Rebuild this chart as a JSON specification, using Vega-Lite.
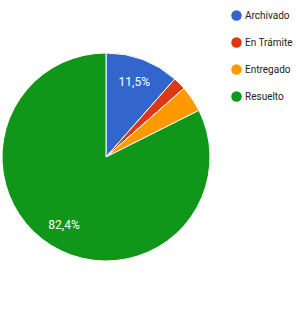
{
  "$schema": "https://vega.github.io/schema/vega-lite/v6.json",
  "width": 210,
  "height": 314,
  "padding": 0,
  "autosize": {"type": "pad"},
  "background": "white",
  "view": {"stroke": null},
  "data": {
    "values": [
      {"estado": "Archivado", "pct": 11.5, "label": "11,5%"},
      {"estado": "En Trámite", "pct": 2.0, "label": ""},
      {"estado": "Entregado", "pct": 4.1, "label": ""},
      {"estado": "Resuelto", "pct": 82.4, "label": "82,4%"}
    ]
  },
  "encoding": {
    "theta": {"field": "pct", "type": "quantitative", "stack": true},
    "order": {"field": "estado", "sort": "ascending"},
    "color": {
      "field": "estado",
      "type": "nominal",
      "scale": {
        "domain": ["Archivado", "En Trámite", "Entregado", "Resuelto"],
        "range": ["#3366cc", "#dc3912", "#ff9900", "#109618"]
      },
      "legend": {
        "title": null,
        "orient": "none",
        "legendX": 230,
        "legendY": 10,
        "symbolType": "circle",
        "symbolSize": 110,
        "symbolStrokeWidth": 0,
        "labelFont": "Roboto",
        "labelFontSize": 10,
        "labelColor": "#222222",
        "rowPadding": 16,
        "labelOffset": 3,
        "labelLimit": 70
      }
    }
  },
  "layer": [
    {"mark": {"type": "arc", "outerRadius": 104, "stroke": "white", "strokeWidth": 1}},
    {
      "mark": {"type": "text", "radius": 80, "font": "Roboto", "fontSize": 12},
      "encoding": {"text": {"field": "label"}, "color": {"value": "white"}}
    }
  ]
}
